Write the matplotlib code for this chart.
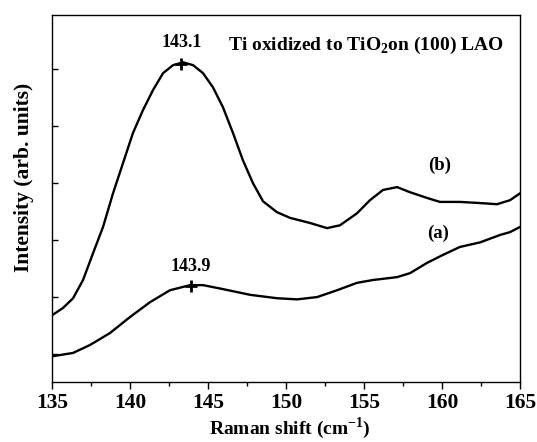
import matplotlib
matplotlib.use('Agg')
import matplotlib.pyplot as plt
from matplotlib.ticker import MultipleLocator

plt.rcParams['font.family'] = ['Liberation Serif', 'DejaVu Serif']
plt.rcParams['font.weight'] = 'bold'
plt.rcParams['mathtext.fontset'] = 'custom'
plt.rcParams['mathtext.rm'] = 'Liberation Serif:bold'
plt.rcParams['mathtext.bf'] = 'Liberation Serif:bold'

# spectrum (b): upper curve
shift_b = [135.00, 135.71, 136.35, 136.99, 137.63, 138.27, 138.91, 139.55,
           140.19, 140.83, 141.47, 142.12, 142.76, 143.40, 144.04, 144.68,
           145.32, 145.96, 146.60, 147.24, 147.88, 148.53, 149.42, 150.26,
           151.54, 152.63, 153.46, 154.55, 155.38, 156.22, 157.12, 157.95,
           159.04, 159.87, 161.15, 162.44, 163.53, 164.36, 165.00]
int_b = [0.68, 0.81, 0.98, 1.30, 1.77, 2.23, 2.82, 3.35,
         3.88, 4.28, 4.63, 4.93, 5.07, 5.12, 5.07, 4.93,
         4.68, 4.33, 3.88, 3.40, 3.00, 2.68, 2.49, 2.39,
         2.30, 2.21, 2.26, 2.47, 2.70, 2.88, 2.93, 2.84,
         2.74, 2.67, 2.67, 2.65, 2.63, 2.70, 2.82]

# spectrum (a): lower curve
shift_a = [135.00, 136.35, 137.44, 138.72, 140.00, 141.28, 142.56, 143.85,
           144.68, 145.96, 147.69, 149.42, 150.71, 151.99, 153.27, 154.55,
           155.58, 157.12, 157.95, 159.04, 160.06, 161.15, 162.44, 163.72,
           164.36, 165.00]
int_a = [-0.04, 0.02, 0.16, 0.37, 0.65, 0.91, 1.12, 1.21,
         1.21, 1.14, 1.04, 0.98, 0.96, 1.00, 1.12, 1.25,
         1.30, 1.35, 1.42, 1.60, 1.74, 1.88, 1.96, 2.09,
         2.14, 2.23]

# marked peaks
peak_pos = [143.3, 143.9]
peak_int = [5.09, 1.19]
peak_lbl = ['143.1', '143.9']

fig = plt.figure(figsize=(5.37, 4.42), dpi=100)
ax = fig.add_axes([52/537, 60/442, 468/537, 367/442])

ax.plot(shift_b, int_b, color='black', lw=1.7, solid_joinstyle='round')
ax.plot(shift_a, int_a, color='black', lw=1.7, solid_joinstyle='round')
ax.plot(peak_pos, peak_int, '+', color='black', ms=8, mew=2)

ax.text(143.3, 5.46, peak_lbl[0], fontsize=13, fontweight='bold',
        ha='center', va='center')
ax.text(143.9, 1.53, peak_lbl[1], fontsize=13, fontweight='bold',
        ha='center', va='center')
ax.text(146.25, 5.42, r'Ti oxidized to TiO$_\mathbf{2}$on (100) LAO', fontsize=14,
        fontweight='bold', ha='left', va='center')
ax.text(159.87, 3.32, '(b)', fontsize=13.5, fontweight='bold', ha='center', va='center')
ax.text(159.74, 2.12, '(a)', fontsize=13.5, fontweight='bold', ha='center', va='center')

ax.set_xlim(135, 165)
ax.set_ylim(-0.49, 5.95)
ax.xaxis.set_major_locator(MultipleLocator(5))
ax.xaxis.set_minor_locator(MultipleLocator(2.5))
ax.yaxis.set_major_locator(MultipleLocator(1))
ax.tick_params(axis='x', which='major', direction='out', length=5, width=1,
               labelsize=15.5, pad=3)
ax.tick_params(axis='x', which='minor', direction='out', length=3, width=1)
ax.tick_params(axis='y', which='major', direction='in', length=4, width=1,
               labelleft=False)
for sp in ax.spines.values():
    sp.set_linewidth(1)
for lbl in ax.get_xticklabels():
    lbl.set_fontweight('bold')

fig.text(290/537, 1 - 434/442, r'Raman shift (cm$^\mathbf{-1}$)', fontsize=14,
         fontweight='bold', ha='center', va='baseline')
fig.text(24/537, 1 - 177/442, 'Intensity (arb. units)', fontsize=15.5,
         fontweight='bold', ha='center', va='center', rotation=90)

fig.savefig('out.png', dpi=100)
